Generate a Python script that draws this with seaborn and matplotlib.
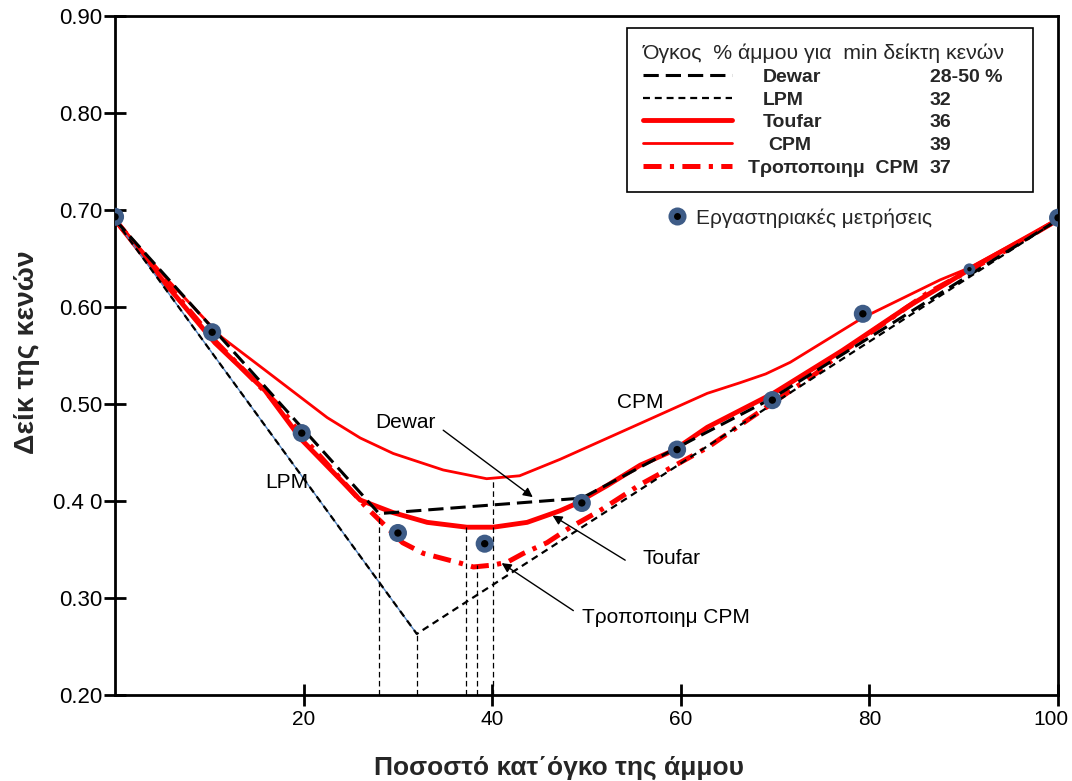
import matplotlib
matplotlib.use("Agg")
import matplotlib.pyplot as plt
from matplotlib.lines import Line2D
from matplotlib.legend_handler import HandlerTuple
from matplotlib.transforms import ScaledTranslation
import seaborn as sns

# Laboratory measurements (sand % by volume, void ratio)
meas_x = [0, 10.3, 19.8, 30.0, 39.2, 49.5, 59.6, 69.7, 79.3, 90.6, 100]
meas_y = [0.693, 0.574, 0.470, 0.367, 0.356, 0.398, 0.453, 0.504, 0.593, 0.639, 0.692]

# Model curves
dewar_x = [0, 28.0, 49.5, 59.6, 69.7, 100]
dewar_y = [0.69, 0.387, 0.403, 0.455, 0.506, 0.69]

lpm_x = [0, 32.0, 100]
lpm_y = [0.69, 0.263, 0.69]

toufar_x = [0, 5, 10.6, 15.9, 19.8, 23, 26.0, 29.5, 33.1, 37.3, 40.1, 43.7, 47.2,
            48.6, 52.2, 55.7, 59.2, 62.8, 69.8, 77.1, 84.0, 91.0, 100]
toufar_y = [0.69, 0.628, 0.563, 0.514, 0.463, 0.431, 0.401, 0.388, 0.378, 0.373, 0.373,
            0.378, 0.390, 0.396, 0.416, 0.437, 0.452, 0.476, 0.511, 0.555, 0.600, 0.641, 0.69]

cpm_x = [0, 5.3, 11.3, 15.9, 22.5, 26.0, 29.5, 34.8, 39.4, 42.9, 47.2, 55.7, 62.8,
         66.3, 69.0, 71.6, 79.3, 87.5, 90.5, 100]
cpm_y = [0.69, 0.631, 0.569, 0.535, 0.486, 0.465, 0.449, 0.432, 0.423, 0.426, 0.443,
         0.480, 0.511, 0.522, 0.531, 0.543, 0.589, 0.628, 0.640, 0.69]

mod_x = [0, 5, 10.6, 17.5, 19.9, 26.7, 30.5, 32.7, 36.6, 38.0, 40.1, 41.6, 43.3, 45.8,
         48.3, 51.4, 55.7, 62.8, 67.0, 74.4, 76.9, 86.1, 94.6, 100]
mod_y = [0.69, 0.63, 0.565, 0.497, 0.466, 0.393, 0.357, 0.346, 0.336, 0.332, 0.334, 0.337,
         0.346, 0.357, 0.373, 0.390, 0.417, 0.455, 0.483, 0.532, 0.552, 0.614, 0.659, 0.69]

# Minimum positions (dashed drop lines)
vline_x = [28.0, 32.0, 37.2, 38.4, 40.1]
vline_top = [0.387, 0.263, 0.373, 0.334, 0.423]

legend_title = "Όγκος  % άμμου για  min δείκτη κενών"
legend_names = ["Dewar", "LPM", "Toufar", "CPM", "Τροποποιημ  CPM"]
legend_values = ["28-50 %", "32", "36", "39", "37"]

x_ticks = [20, 40, 60, 80, 100]
x_ticklabels = ["20", "40", "60", "80", "100"]
y_ticks = [0.2, 0.3, 0.4, 0.5, 0.6, 0.7, 0.8, 0.9]
y_ticklabels = ["0.20", "0.30", "0.4 0", "0.50", "0.60", "0.70", "0.80", "0.90"]

# Curve labels and arrows (text position, arrow tail, arrow head)
curve_labels = ["Dewar", "LPM", "CPM", "Toufar", "Τροποποιημ CPM"]
curve_label_pos = [(30.8, 0.481), (18.2, 0.419), (55.7, 0.502), (59.0, 0.341), (58.4, 0.280)]
arrow_tail = [(34.8, 0.473), (54.1, 0.339), (48.6, 0.287)]
arrow_head = [(44.3, 0.404), (46.4, 0.385), (41.0, 0.336)]

# Farben / Stile
red = "#FF0000"
dot_blue = "#3E5C87"
styles = {
    "Dewar": dict(color="black", lw=2.2, ls=(0, (11, 5))),
    "LPM": dict(color="black", lw=1.6, ls=(0, (5, 3.5))),
    "Toufar": dict(color=red, lw=3.5, ls="-"),
    "CPM": dict(color=red, lw=2.0, ls="-"),
    "Mod": dict(color=red, lw=3.6, ls=(0, (13, 6, 3, 6))),
}

sns.set_theme(style="white")
plt.rcParams["font.family"] = ["Liberation Sans", "DejaVu Sans"]
plt.rcParams["lines.scale_dashes"] = False

fig = plt.figure(figsize=(10.72, 7.81), dpi=100)
ax = fig.add_axes([0.1073, 0.1101, 0.8797, 0.8694])

sns.lineplot(x=cpm_x, y=cpm_y, ax=ax, sort=False, estimator=None, **styles["CPM"])
sns.lineplot(x=toufar_x, y=toufar_y, ax=ax, sort=False, estimator=None, **styles["Toufar"])
sns.lineplot(x=mod_x, y=mod_y, ax=ax, sort=False, estimator=None, **styles["Mod"])
sns.lineplot(x=lpm_x[:2], y=lpm_y[:2], ax=ax, sort=False, estimator=None, color="#4F81BD", lw=1.0)
sns.lineplot(x=lpm_x, y=lpm_y, ax=ax, sort=False, estimator=None, **styles["LPM"])
sns.lineplot(x=dewar_x, y=dewar_y, ax=ax, sort=False, estimator=None, **styles["Dewar"])

ax.vlines(vline_x, 0.2, vline_top, colors="black", lw=0.9, linestyles=[(0, (4, 2.5))])

# points: outer blue disc + black centre, one smaller point
outer_s = [170] * len(meas_x)
inner_s = [28] * len(meas_x)
outer_s[9], inner_s[9] = 70, 10
sns.scatterplot(x=meas_x, y=meas_y, ax=ax, s=outer_s, color=dot_blue, linewidth=0, zorder=6)
sns.scatterplot(x=meas_x, y=meas_y, ax=ax, s=inner_s, color="black", linewidth=0, zorder=7)

for txt, (tx, ty) in zip(curve_labels, curve_label_pos):
    ax.text(tx, ty, txt, ha="center", va="center", fontsize=15, color="black")
for tail, head in zip(arrow_tail, arrow_head):
    ax.annotate("", xy=head, xytext=tail,
                arrowprops=dict(arrowstyle="-|>", color="black", lw=1.0,
                                mutation_scale=14, shrinkA=0, shrinkB=0))

ax.set_xlim(0, 100)
ax.set_ylim(0.2, 0.9)
ax.set_xticks(x_ticks)
ax.set_xticklabels(x_ticklabels)
ax.set_yticks(y_ticks)
ax.set_yticklabels(y_ticklabels)
ax.tick_params(axis="both", direction="inout", length=16, width=2, colors="black",
               bottom=True, left=True)
ax.tick_params(axis="x", labelsize=15, pad=3)
ax.tick_params(axis="y", labelsize=16, pad=1)
for spine in ax.spines.values():
    spine.set_linewidth(2)
    spine.set_color("black")

# "100" sits at the figure edge, nudge it a little to the left
last = ax.get_xticklabels()[-1]
last.set_transform(last.get_transform() + ScaledTranslation(-5 / 72, 0, fig.dpi_scale_trans))

ax.set_xlabel("Ποσοστό κατ΄όγκο της άμμου", fontsize=19, fontweight="bold")
ax.xaxis.set_label_coords(0.471, -0.09)
ax.set_ylabel("Δείκ της κενών", fontsize=20.5, fontweight="bold")
ax.yaxis.set_label_coords(-0.08, 0.505)

# Legende (Modelle)
keys = ["Dewar", "LPM", "Toufar", "CPM", "Mod"]
handles = [Line2D([], [], **styles[k]) for k in keys]
leg1 = ax.legend(handles, legend_names, title=legend_title, loc="upper left",
                 bbox_to_anchor=(0.543, 0.741, 0.430, 0.241), mode="expand",
                 borderaxespad=0, alignment="left", fancybox=False, edgecolor="black",
                 framealpha=1, handlelength=4.6, handletextpad=1.6, labelspacing=0.26,
                 borderpad=0.8, prop={"weight": "bold", "size": 14}, title_fontsize=15.3)
leg1.get_frame().set_linewidth(1.2)
ax.add_artist(leg1)
leg_texts = leg1.get_texts()
leg_texts[3].set_x(5)
leg_texts[4].set_x(-15)
for txt, val in zip(leg_texts, legend_values):
    ax.annotate(val, xy=(0.864, 0.5), xycoords=("axes fraction", txt), ha="left",
                va="center", fontsize=14, fontweight="bold", zorder=8)

# Legende (Messpunkte)
outer_h = Line2D([], [], marker="o", ls="none", ms=13, mfc=dot_blue, mec="none")
inner_h = Line2D([], [], marker="o", ls="none", ms=5, mfc="black", mec="none")
ax.legend([(outer_h, inner_h)], ["Εργαστηριακές μετρήσεις"],
          handler_map={tuple: HandlerTuple(ndivide=1)}, loc="center left",
          bbox_to_anchor=(0.576, 0.7025), borderaxespad=0, frameon=False,
          handlelength=1.0, handletextpad=0.4, fontsize=15)

fig.canvas.draw()
fig.savefig("out.png", dpi=100)
